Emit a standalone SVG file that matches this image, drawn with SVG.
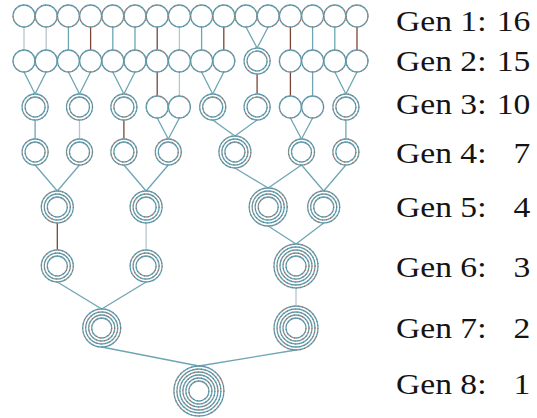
<svg xmlns="http://www.w3.org/2000/svg" xmlns:xlink="http://www.w3.org/1999/xlink" width="537" height="418" viewBox="0 0 537 418">
<style>
.rb{fill:none;stroke:#639fb0;stroke-width:1.3}
.rd{fill:none;stroke:#a4604a;stroke-width:1.1;stroke-dasharray:0.8 3.4}
.b{stroke:#6ea5b5;stroke-width:1.3}
.d{stroke:#7c4434;stroke-width:1.3}
.l{stroke:#b7c5ca;stroke-width:1.3}
text{font-family:"Liberation Serif","Times New Roman",serif;font-size:30px;fill:#141414}
</style>
<defs>
<g id="n1"><circle r="11" class="rb"/><circle r="11" class="rd"/></g>
<g id="n2"><circle r="10" class="rb"/><circle r="10" class="rd"/><circle r="13" class="rb"/><circle r="13" class="rd"/></g>
<g id="n3"><use href="#n2"/><circle r="16" class="rb"/><circle r="16" class="rd"/></g>
<g id="n4"><use href="#n3"/><circle r="19" class="rb"/><circle r="19" class="rd"/></g>
<g id="n5"><use href="#n4"/><circle r="22" class="rb"/><circle r="22" class="rd"/></g>
<g id="n6"><use href="#n5"/><circle r="25" class="rb"/><circle r="25" class="rd"/></g>
</defs>
<rect width="537" height="418" fill="#fff"/>
<g id="connectors">
<line class="l" x1="24" y1="27" x2="24" y2="50"/>
<line class="l" x1="46.2" y1="27" x2="46.2" y2="50"/>
<line class="b" x1="68.4" y1="27" x2="68.4" y2="50"/>
<line class="d" x1="90.6" y1="27" x2="90.6" y2="50"/>
<line class="b" x1="112.8" y1="27" x2="112.8" y2="50"/>
<line class="b" x1="135" y1="27" x2="135" y2="50"/>
<line class="d" x1="157.2" y1="27" x2="157.2" y2="50"/>
<line class="l" x1="179.4" y1="27" x2="179.4" y2="50"/>
<line class="b" x1="201.6" y1="27" x2="201.6" y2="50"/>
<line class="d" x1="223.8" y1="27" x2="223.8" y2="50"/>
<line class="b" x1="246" y1="27" x2="257.1" y2="48"/>
<line class="b" x1="268.2" y1="27" x2="257.1" y2="48"/>
<line class="d" x1="290.4" y1="27" x2="290.4" y2="50"/>
<line class="b" x1="312.6" y1="27" x2="312.6" y2="50"/>
<line class="b" x1="334.8" y1="27" x2="334.8" y2="50"/>
<line class="d" x1="357" y1="27" x2="357" y2="50"/>
<line class="b" x1="24" y1="72" x2="35.1" y2="94"/>
<line class="b" x1="46.2" y1="72" x2="35.1" y2="94"/>
<line class="b" x1="68.4" y1="72" x2="79.5" y2="94"/>
<line class="b" x1="90.6" y1="72" x2="79.5" y2="94"/>
<line class="b" x1="112.8" y1="72" x2="123.9" y2="94"/>
<line class="b" x1="135" y1="72" x2="123.9" y2="94"/>
<line class="d" x1="157.2" y1="72" x2="157.2" y2="96"/>
<line class="l" x1="179.4" y1="72" x2="179.4" y2="96"/>
<line class="b" x1="201.6" y1="72" x2="212.7" y2="94"/>
<line class="b" x1="223.8" y1="72" x2="212.7" y2="94"/>
<line class="d" x1="257.1" y1="74" x2="257.1" y2="94"/>
<line class="d" x1="290.4" y1="72" x2="290.4" y2="96"/>
<line class="b" x1="312.6" y1="72" x2="312.6" y2="96"/>
<line class="b" x1="334.8" y1="72" x2="345.9" y2="94"/>
<line class="b" x1="357" y1="72" x2="345.9" y2="94"/>
<line class="b" x1="35.1" y1="120" x2="35.1" y2="139"/>
<line class="l" x1="79.5" y1="120" x2="79.5" y2="139"/>
<line class="d" x1="123.9" y1="120" x2="123.9" y2="139"/>
<line class="b" x1="157.2" y1="118" x2="168.3" y2="139"/>
<line class="b" x1="179.4" y1="118" x2="168.3" y2="139"/>
<line class="b" x1="212.7" y1="120" x2="234.9" y2="136"/>
<line class="b" x1="257.1" y1="120" x2="234.9" y2="136"/>
<line class="b" x1="290.4" y1="118" x2="301.5" y2="139"/>
<line class="b" x1="312.6" y1="118" x2="301.5" y2="139"/>
<line class="b" x1="345.9" y1="120" x2="345.9" y2="139"/>
<line class="b" x1="35.1" y1="165" x2="57.3" y2="191"/>
<line class="b" x1="79.5" y1="165" x2="57.3" y2="191"/>
<line class="b" x1="123.9" y1="165" x2="146.1" y2="191"/>
<line class="b" x1="168.3" y1="165" x2="146.1" y2="191"/>
<line class="b" x1="234.9" y1="168" x2="268.2" y2="188"/>
<line class="b" x1="301.5" y1="165" x2="268.2" y2="188"/>
<line class="b" x1="301.5" y1="165" x2="323.7" y2="191"/>
<line class="b" x1="345.9" y1="165" x2="323.7" y2="191"/>
<line class="d" x1="57.3" y1="223" x2="57.3" y2="250"/>
<line class="l" x1="146.1" y1="223" x2="146.1" y2="250"/>
<line class="b" x1="268.2" y1="226" x2="296" y2="244"/>
<line class="b" x1="323.7" y1="223" x2="296" y2="244"/>
<line class="b" x1="57.3" y1="282" x2="101.7" y2="309"/>
<line class="b" x1="146.1" y1="282" x2="101.7" y2="309"/>
<line class="l" x1="296" y1="288" x2="296" y2="306"/>
<line class="b" x1="101.7" y1="347" x2="198.9" y2="366"/>
<line class="b" x1="296" y1="350" x2="198.9" y2="366"/>
</g>
<g id="gen1">
<use id="g1-1" href="#n1" x="24" y="16"/>
<use id="g1-2" href="#n1" x="46.2" y="16"/>
<use id="g1-3" href="#n1" x="68.4" y="16"/>
<use id="g1-4" href="#n1" x="90.6" y="16"/>
<use id="g1-5" href="#n1" x="112.8" y="16"/>
<use id="g1-6" href="#n1" x="135" y="16"/>
<use id="g1-7" href="#n1" x="157.2" y="16"/>
<use id="g1-8" href="#n1" x="179.4" y="16"/>
<use id="g1-9" href="#n1" x="201.6" y="16"/>
<use id="g1-10" href="#n1" x="223.8" y="16"/>
<use id="g1-11" href="#n1" x="246" y="16"/>
<use id="g1-12" href="#n1" x="268.2" y="16"/>
<use id="g1-13" href="#n1" x="290.4" y="16"/>
<use id="g1-14" href="#n1" x="312.6" y="16"/>
<use id="g1-15" href="#n1" x="334.8" y="16"/>
<use id="g1-16" href="#n1" x="357" y="16"/>
</g>
<g id="gen2">
<use id="g2-1" href="#n1" x="24" y="61"/>
<use id="g2-2" href="#n1" x="46.2" y="61"/>
<use id="g2-3" href="#n1" x="68.4" y="61"/>
<use id="g2-4" href="#n1" x="90.6" y="61"/>
<use id="g2-5" href="#n1" x="112.8" y="61"/>
<use id="g2-6" href="#n1" x="135" y="61"/>
<use id="g2-7" href="#n1" x="157.2" y="61"/>
<use id="g2-8" href="#n1" x="179.4" y="61"/>
<use id="g2-9" href="#n1" x="201.6" y="61"/>
<use id="g2-10" href="#n1" x="223.8" y="61"/>
<use id="g2-11" href="#n2" x="257.1" y="61"/>
<use id="g2-12" href="#n1" x="290.4" y="61"/>
<use id="g2-13" href="#n1" x="312.6" y="61"/>
<use id="g2-14" href="#n1" x="334.8" y="61"/>
<use id="g2-15" href="#n1" x="357" y="61"/>
</g>
<g id="gen3">
<use id="g3-1" href="#n2" x="35.1" y="107"/>
<use id="g3-2" href="#n2" x="79.5" y="107"/>
<use id="g3-3" href="#n2" x="123.9" y="107"/>
<use id="g3-4" href="#n1" x="157.2" y="107"/>
<use id="g3-5" href="#n1" x="179.4" y="107"/>
<use id="g3-6" href="#n2" x="212.7" y="107"/>
<use id="g3-7" href="#n2" x="257.1" y="107"/>
<use id="g3-8" href="#n1" x="290.4" y="107"/>
<use id="g3-9" href="#n1" x="312.6" y="107"/>
<use id="g3-10" href="#n2" x="345.9" y="107"/>
</g>
<g id="gen4">
<use id="g4-1" href="#n2" x="35.1" y="152"/>
<use id="g4-2" href="#n2" x="79.5" y="152"/>
<use id="g4-3" href="#n2" x="123.9" y="152"/>
<use id="g4-4" href="#n2" x="168.3" y="152"/>
<use id="g4-5" href="#n3" x="234.9" y="152"/>
<use id="g4-6" href="#n2" x="301.5" y="152"/>
<use id="g4-7" href="#n2" x="345.9" y="152"/>
</g>
<g id="gen5">
<use id="g5-1" href="#n3" x="57.3" y="207"/>
<use id="g5-2" href="#n3" x="146.1" y="207"/>
<use id="g5-3" href="#n4" x="268.2" y="207"/>
<use id="g5-4" href="#n3" x="323.7" y="207"/>
</g>
<g id="gen6">
<use id="g6-1" href="#n3" x="57.3" y="266"/>
<use id="g6-2" href="#n3" x="146.1" y="266"/>
<use id="g6-3" href="#n5" x="296" y="266"/>
</g>
<g id="gen7">
<use id="g7-1" href="#n4" x="101.7" y="328"/>
<use id="g7-2" href="#n5" x="296" y="328"/>
</g>
<g id="gen8">
<use id="g8-1" href="#n6" x="198.9" y="391"/>
</g>
<g id="labels" transform="matrix(1.12 0 0 1 396 0)">
<text y="31">Gen 1:<tspan x="120" text-anchor="end">16</tspan></text>
<text y="71">Gen 2:<tspan x="120" text-anchor="end">15</tspan></text>
<text y="114">Gen 3:<tspan x="120" text-anchor="end">10</tspan></text>
<text y="163">Gen 4:<tspan x="120" text-anchor="end">7</tspan></text>
<text y="217">Gen 5:<tspan x="120" text-anchor="end">4</tspan></text>
<text y="277">Gen 6:<tspan x="120" text-anchor="end">3</tspan></text>
<text y="338">Gen 7:<tspan x="120" text-anchor="end">2</tspan></text>
<text y="394">Gen 8:<tspan x="120" text-anchor="end">1</tspan></text>
</g>
</svg>
